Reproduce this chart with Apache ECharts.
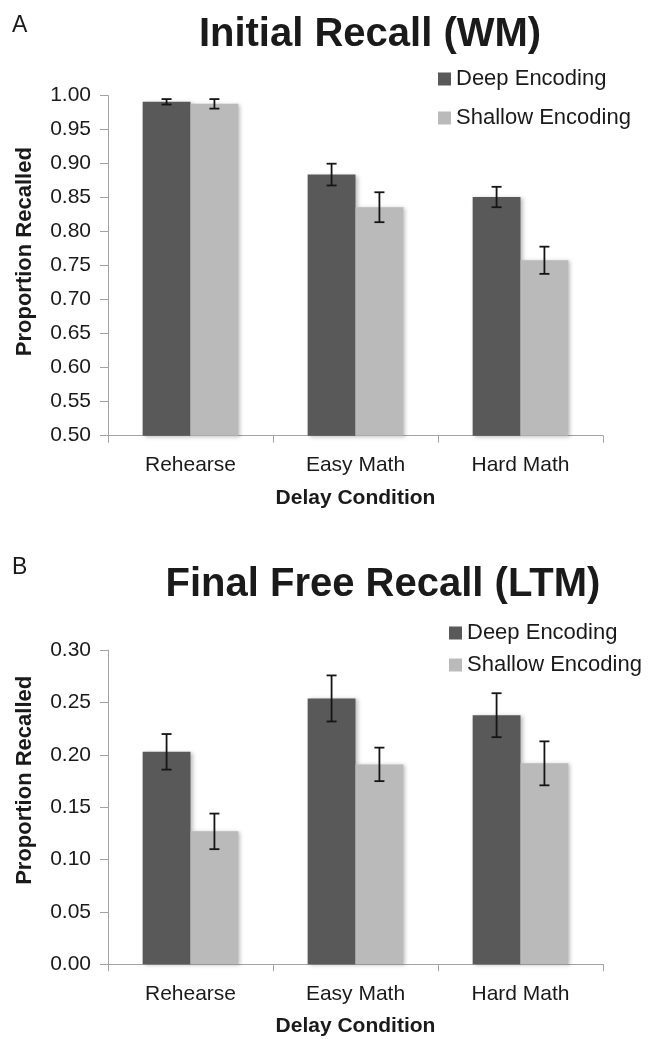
<!DOCTYPE html>
<html>
<head>
<meta charset="utf-8">
<script src="https://cdn.jsdelivr.net/npm/echarts@6/dist/echarts.min.js"></script>
<style>
html,body{margin:0;padding:0;background:#fff;}
#chart{width:656px;height:1039px;}
</style>
</head>
<body>
<div id="chart"></div>
<script>
// ---- data ----
const categories = ['Rehearse', 'Easy Math', 'Hard Math'];
const seriesNames = ['Deep Encoding', 'Shallow Encoding'];
const wmDeep = [0.991, 0.884, 0.851];
const wmDeepErr = [0.004, 0.016, 0.015];
const wmShallow = [0.988, 0.836, 0.758];
const wmShallowErr = [0.007, 0.022, 0.020];
const ltmDeep = [0.203, 0.254, 0.238];
const ltmDeepErr = [0.017, 0.022, 0.021];
const ltmShallow = [0.127, 0.191, 0.192];
const ltmShallowErr = [0.017, 0.016, 0.021];
const panelTitles = ['Initial Recall (WM)', 'Final Free Recall (LTM)'];
const panelLetters = ['A', 'B'];
const yAxisName = 'Proportion Recalled';
const xAxisName = 'Delay Condition';

// ---- styling ----
const FONT = '"Liberation Sans", Arial, Helvetica, sans-serif';
const DEEP = '#595959', SHALLOW = '#bababa';
const AXIS_COLOR = '#a3a3a3';
const TEXT = '#1a1a1a';
const BAR_FRAC = 0.29;

function errData(vals, errs, side) {
  return vals.map((v, i) => [i, v - errs[i], v + errs[i], side]);
}
function renderErr(params, api) {
  const i = api.value(0), lo = api.value(1), hi = api.value(2), side = api.value(3);
  const band = api.size([1, 0])[0];
  const off = side * band * BAR_FRAC / 2;
  const pLo = api.coord([i, lo]);
  const pHi = api.coord([i, hi]);
  const x = pLo[0] + off;
  const cap = 5;
  const st = { stroke: '#151515', lineWidth: 1.8 };
  return {
    type: 'group',
    children: [
      { type: 'line', shape: { x1: x, y1: pLo[1], x2: x, y2: pHi[1] }, style: st },
      { type: 'line', shape: { x1: x - cap, y1: pHi[1], x2: x + cap, y2: pHi[1] }, style: st },
      { type: 'line', shape: { x1: x - cap, y1: pLo[1], x2: x + cap, y2: pLo[1] }, style: st }
    ]
  };
}

function xAxisFor(gi, gap) {
  return {
    type: 'category', gridIndex: gi, data: categories,
    axisLine: { lineStyle: { color: AXIS_COLOR, width: 1 } },
    axisTick: { show: true, length: 7, lineStyle: { color: AXIS_COLOR } },
    axisLabel: { color: TEXT, fontSize: 21, fontFamily: FONT, margin: 19 },
    name: xAxisName, nameLocation: 'middle', nameGap: gap,
    nameTextStyle: { color: TEXT, fontSize: 21, fontWeight: 'bold', fontFamily: FONT },
    splitLine: { show: false }
  };
}
function yAxisFor(gi, min, max, pad) {
  return {
    type: 'value', gridIndex: gi, min: min, max: max, interval: 0.05,
    axisLine: { show: true, lineStyle: { color: AXIS_COLOR, width: 1 } },
    axisTick: { show: true, length: 8, lineStyle: { color: AXIS_COLOR } },
    axisLabel: { color: TEXT, fontSize: 21, fontFamily: FONT, margin: 17,
      formatter: v => v.toFixed(2) },
    splitLine: { show: false },
    name: yAxisName, nameLocation: 'middle', nameGap: 72,
    nameTextStyle: { color: TEXT, fontSize: 22, fontWeight: 'bold', fontFamily: FONT,
      padding: [0, 0, 0, pad] }
  };
}
const barStyle = c => ({
  color: c, shadowColor: 'rgba(0,0,0,0.25)', shadowBlur: 4, shadowOffsetX: 2, shadowOffsetY: 1
});
function barSeries(name, data, color, gi) {
  return {
    type: 'bar', name: name, data: data, xAxisIndex: gi, yAxisIndex: gi,
    barWidth: (BAR_FRAC * 100) + '%', barGap: '0%', clip: true,
    itemStyle: barStyle(color), emphasis: { disabled: true }
  };
}
function errSeries(name, vals, errs, side, gi) {
  return {
    type: 'custom', name: name, xAxisIndex: gi, yAxisIndex: gi, z: 5,
    renderItem: renderErr, data: errData(vals, errs, side),
    encode: { x: 0, y: [1, 2] }, silent: true
  };
}

const chart = echarts.init(document.getElementById('chart'), null, { renderer: 'canvas' });
chart.setOption({
  animation: false,
  backgroundColor: '#ffffff',
  textStyle: { fontFamily: FONT },
  grid: [
    { left: 108, right: 53, top: 95.7, height: 340 },
    { left: 108, right: 53, top: 650.3, height: 314 }
  ],
  xAxis: [xAxisFor(0, 52), xAxisFor(1, 51)],
  yAxis: [yAxisFor(0, 0.5, 1.0, 28), yAxisFor(1, 0, 0.3, 54)],
  legend: [
    { data: seriesNames, orient: 'vertical', left: 438, top: 68, itemGap: 17, padding: 0,
      itemWidth: 13, itemHeight: 13, icon: 'rect',
      textStyle: { color: TEXT, fontSize: 22, fontFamily: FONT } },
    { data: seriesNames, orient: 'vertical', left: 449, top: 622, itemGap: 10, padding: 0,
      itemWidth: 13, itemHeight: 13, icon: 'rect',
      textStyle: { color: TEXT, fontSize: 22, fontFamily: FONT } }
  ],
  graphic: [
    { type: 'text', left: 12, top: 14, style: { text: panelLetters[0], fontSize: 23, fill: TEXT, fontFamily: FONT } },
    { type: 'text', left: 12, top: 556, style: { text: panelLetters[1], fontSize: 23, fill: TEXT, fontFamily: FONT } },
    { type: 'text', x: 370, y: 35, style: { text: panelTitles[0], fontSize: 40, fontWeight: 'bold', fill: TEXT, fontFamily: FONT, align: 'center', verticalAlign: 'middle' } },
    { type: 'text', x: 383, y: 585, style: { text: panelTitles[1], fontSize: 40, fontWeight: 'bold', fill: TEXT, fontFamily: FONT, align: 'center', verticalAlign: 'middle' } }
  ],
  series: [
    barSeries(seriesNames[0], wmDeep, DEEP, 0),
    barSeries(seriesNames[1], wmShallow, SHALLOW, 0),
    errSeries('wmDeepErr', wmDeep, wmDeepErr, -1, 0),
    errSeries('wmShallowErr', wmShallow, wmShallowErr, 1, 0),
    barSeries(seriesNames[0], ltmDeep, DEEP, 1),
    barSeries(seriesNames[1], ltmShallow, SHALLOW, 1),
    errSeries('ltmDeepErr', ltmDeep, ltmDeepErr, -1, 1),
    errSeries('ltmShallowErr', ltmShallow, ltmShallowErr, 1, 1)
  ]
});
</script>
</body>
</html>
